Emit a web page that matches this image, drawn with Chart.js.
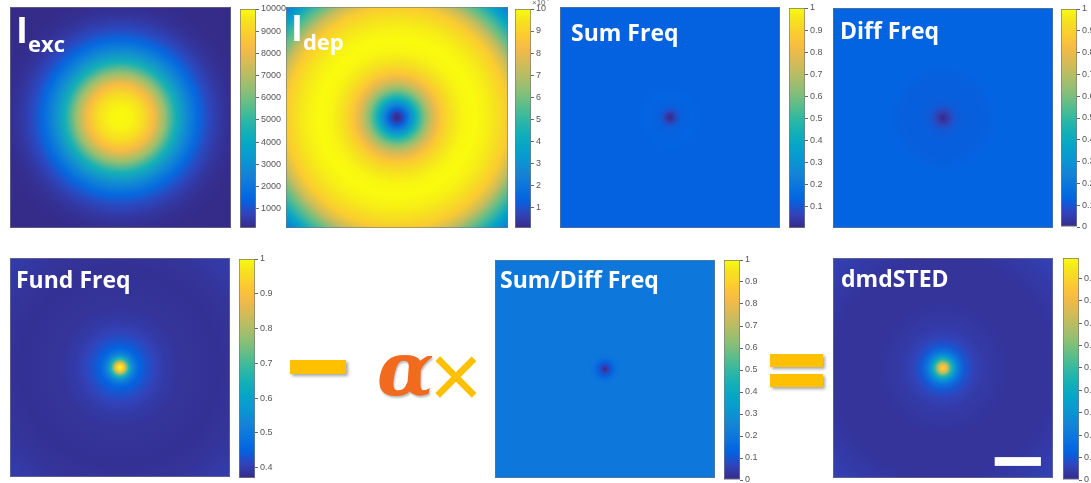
<!DOCTYPE html>
<html>
<head>
<meta charset="utf-8">
<script src="https://cdn.jsdelivr.net/npm/chart.js@4.4.0/dist/chart.umd.min.js"></script>
<style>
  body { margin: 0; background: #fff; width: 1091px; height: 483px; overflow: hidden; position: relative; font-family: "Open Sans", sans-serif; }
  canvas { position: absolute; }
  .ttl { position: absolute; color: #fff; font-weight: 700; font-size: 23px; line-height: 23px; white-space: nowrap; }
  .big { font-size: 36px; line-height: 36px; }
  .sub { font-size: 22px; position: relative; top: 9px; }
  .bar { position: absolute; background: #ffc000; box-shadow: 2px 2px 3px rgba(0,0,0,0.35); }
  .sym { position: absolute; white-space: nowrap; line-height: 1; }
  .exp { position: absolute; font: 8px "Liberation Sans", sans-serif; color: #666; }
</style>
</head>
<body>
<canvas id="p1" width="221" height="221" style="left:10px;top:7px"></canvas>
<canvas id="c1" width="46" height="235" style="left:240px;top:1px"></canvas>
<canvas id="p2" width="222" height="221" style="left:286px;top:7px"></canvas>
<canvas id="c2" width="46" height="235" style="left:515px;top:1px"></canvas>
<canvas id="p3" width="220" height="221" style="left:560px;top:7px"></canvas>
<canvas id="c3" width="46" height="236" style="left:789px;top:0px"></canvas>
<canvas id="p4" width="220" height="220" style="left:833px;top:8px"></canvas>
<canvas id="c4" width="46" height="234" style="left:1061px;top:1px"></canvas>

<canvas id="p5" width="220" height="219" style="left:10px;top:258px"></canvas>
<canvas id="c5" width="46" height="235" style="left:239px;top:251px"></canvas>
<canvas id="p6" width="220" height="218" style="left:495px;top:260px"></canvas>
<canvas id="c6" width="46" height="236" style="left:724px;top:252px"></canvas>
<canvas id="p7" width="220" height="220" style="left:833px;top:258px"></canvas>
<canvas id="c7" width="46" height="238" style="left:1063px;top:250px"></canvas>

<div class="ttl" style="left:16px;top:12px"><span class="big">I</span><span class="sub">exc</span></div>
<div class="ttl" style="left:291px;top:10px"><span class="big">I</span><span class="sub">dep</span></div>
<div class="ttl" style="left:571px;top:21px">Sum Freq</div>
<div class="ttl" style="left:840px;top:19px">Diff Freq</div>
<div class="ttl" style="left:16px;top:268px">Fund Freq</div>
<div class="ttl" style="left:500px;top:268px">Sum/Diff Freq</div>
<div class="ttl" style="left:841px;top:267px">dmdSTED</div>
<div class="exp" style="left:532px;top:-5px">×10<sup>4</sup></div>

<div class="bar" style="left:290px;top:360px;width:56px;height:14px"></div>
<div class="sym" style="left:377px;top:326px;font:italic 700 74px 'DejaVu Serif',serif;color:#f26a1d;text-shadow:1px 2px 2px rgba(0,0,0,0.25)">α</div>
<div class="sym" style="left:429px;top:324px;font:400 92px 'Liberation Sans',sans-serif;color:#ffc000">×</div>
<div class="bar" style="left:770px;top:354px;width:53px;height:13px"></div>
<div class="bar" style="left:770px;top:374px;width:53px;height:13px"></div>

<script>
// radial profiles (r = distance from centre in half-widths, v = value)
const excR = [0, 0.1, 0.2, 0.3, 0.4, 0.5, 0.6, 0.7, 0.8, 0.9, 1.0, 1.1, 1.25, 1.42];
const excV = [10000, 9850, 9350, 8300, 6500, 4500, 2800, 1600, 850, 450, 250, 170, 140, 130];

const depR = [0, 0.04, 0.08, 0.12, 0.16, 0.2, 0.25, 0.3, 0.35, 0.4, 0.5, 0.6, 0.7, 0.8, 0.9, 1.0, 1.1, 1.2, 1.3, 1.42];
const depV = [0.05, 0.5, 1.5, 2.7, 3.9, 5.0, 6.2, 7.2, 8.0, 8.7, 9.5, 9.9, 10, 9.8, 9.4, 8.8, 7.3, 5.6, 3.8, 1.9];

const sumR = [0, 0.03, 0.06, 0.1, 0.2, 0.3, 0.6, 1.42];
const sumV = [0.0, 0.04, 0.09, 0.125, 0.135, 0.13, 0.13, 0.13];

const diffR = [0, 0.04, 0.08, 0.12, 0.2, 0.35, 0.5, 1.0, 1.42];
const diffV = [0.0, 0.04, 0.08, 0.11, 0.12, 0.12, 0.13, 0.13, 0.13];

const fundR = [0, 0.03, 0.05, 0.08, 0.11, 0.14, 0.18, 0.24, 0.32, 0.42, 0.55, 0.9, 1.1, 1.3, 1.42];
const fundV = [1.0, 0.93, 0.82, 0.66, 0.55, 0.49, 0.45, 0.43, 0.41, 0.395, 0.385, 0.38, 0.385, 0.395, 0.40];

const sdR = [0, 0.03, 0.06, 0.1, 0.15, 0.3, 1.42];
const sdV = [0.0, 0.06, 0.12, 0.18, 0.2, 0.2, 0.2];

const stedR = [0, 0.03, 0.05, 0.08, 0.11, 0.15, 0.2, 0.28, 0.38, 0.6, 1.0, 1.2, 1.42];
const stedV = [0.9, 0.8, 0.65, 0.45, 0.3, 0.18, 0.1, 0.06, 0.04, 0.025, 0.025, 0.04, 0.06];

// colorbar ranges and tick labels
const excRange = [130, 10000];
const excTicks = [1000, 2000, 3000, 4000, 5000, 6000, 7000, 8000, 9000, 10000];
const depRange = [0.05, 10];
const depTicks = [1, 2, 3, 4, 5, 6, 7, 8, 9, 10];
const sumRange = [0.005, 1];
const sumTicks = [0.1, 0.2, 0.3, 0.4, 0.5, 0.6, 0.7, 0.8, 0.9, 1];
const diffRange = [0, 1];
const diffTicks = [0, 0.1, 0.2, 0.3, 0.4, 0.5, 0.6, 0.7, 0.8, 0.9, 1];
const fundRange = [0.37, 1];
const fundTicks = [0.4, 0.5, 0.6, 0.7, 0.8, 0.9, 1];
const sdRange = [0, 1];
const sdTicks = [0, 0.1, 0.2, 0.3, 0.4, 0.5, 0.6, 0.7, 0.8, 0.9, 1];
const stedRange = [0, 0.99];
const stedTicks = [0, 0.1, 0.2, 0.3, 0.4, 0.5, 0.6, 0.7, 0.8, 0.9];

// parula colormap stops [position, r, g, b]
const parula = [
  [0/63, 0.2081, 0.1663, 0.5292], [4/63, 0.1959, 0.2645, 0.7279], [8/63, 0.0117, 0.3875, 0.8820],
  [12/63, 0.0498, 0.4586, 0.8641], [16/63, 0.0793, 0.5200, 0.8312], [20/63, 0.0343, 0.5966, 0.8199],
  [24/63, 0.0228, 0.6535, 0.7768], [28/63, 0.0843, 0.6928, 0.7062], [32/63, 0.2178, 0.7250, 0.6193],
  [36/63, 0.3953, 0.7459, 0.5244], [40/63, 0.5709, 0.7485, 0.4494], [44/63, 0.7184, 0.7411, 0.3905],
  [48/63, 0.8507, 0.7299, 0.3360], [52/63, 0.9739, 0.7314, 0.2666], [56/63, 0.9880, 0.8066, 0.1794],
  [60/63, 0.9589, 0.8949, 0.1132], [63/63, 0.9763, 0.9831, 0.0538]
];

function cmap(t) {
  t = Math.max(0, Math.min(1, t));
  let i = 0;
  while (i < parula.length - 2 && t > parula[i + 1][0]) i++;
  const a = parula[i], b = parula[i + 1];
  const f = (t - a[0]) / (b[0] - a[0]);
  const c = [1, 2, 3].map(k => Math.round(255 * (a[k] + (b[k] - a[k]) * f)));
  return 'rgb(' + c.join(',') + ')';
}

// paints the radial field through the x/y scales
const radialPlugin = {
  id: 'radial',
  beforeDatasetsDraw(chart, args, o) {
    const { ctx, chartArea: a, scales: { x, y } } = chart;
    const cx = x.getPixelForValue(0), cy = y.getPixelForValue(0);
    const rmax = o.r[o.r.length - 1];
    const R = x.getPixelForValue(rmax) - cx;
    const g = ctx.createRadialGradient(cx, cy, 0, cx, cy, R);
    o.r.forEach((r, i) => g.addColorStop(r / rmax, cmap((o.v[i] - o.lo) / (o.hi - o.lo))));
    ctx.save();
    ctx.fillStyle = g;
    ctx.fillRect(a.left, a.top, a.width, a.height);
    if (o.scaleBar) {
      const [x0, x1, y0, y1] = o.scaleBar;
      ctx.fillStyle = '#fff';
      const px0 = x.getPixelForValue(x0), px1 = x.getPixelForValue(x1);
      const py0 = y.getPixelForValue(y0), py1 = y.getPixelForValue(y1);
      ctx.fillRect(px0, py0, px1 - px0, py1 - py0);
    }
    ctx.strokeStyle = 'rgba(120,120,120,0.6)';
    ctx.lineWidth = 1;
    ctx.strokeRect(a.left + 0.5, a.top + 0.5, a.width - 1, a.height - 1);
    ctx.restore();
  }
};

function heatmap(id, r, v, range, scaleBar) {
  new Chart(document.getElementById(id), {
    type: 'scatter',
    data: { datasets: [{ data: r.map((rr, i) => ({ x: rr, y: 0 })), pointRadius: 0 }] },
    options: {
      responsive: false, animation: false, events: [],
      layout: { padding: 0 },
      plugins: {
        legend: { display: false }, tooltip: { enabled: false },
        radial: { r: r, v: v, lo: range[0], hi: range[1], scaleBar: scaleBar }
      },
      scales: {
        x: { display: false, min: -1, max: 1 },
        y: { display: false, min: -1, max: 1 }
      }
    },
    plugins: [radialPlugin]
  });
}

function colorbar(id, range, ticks) {
  new Chart(document.getElementById(id), {
    type: 'bar',
    data: {
      labels: ['c'],
      datasets: [{
        data: [[range[0], range[1]]],
        backgroundColor: (c) => {
          const ch = c.chart;
          if (!ch.chartArea) return null;
          const ys = ch.scales.y;
          const g = ch.ctx.createLinearGradient(0, ys.getPixelForValue(range[0]), 0, ys.getPixelForValue(range[1]));
          for (let i = 0; i <= 32; i++) g.addColorStop(i / 32, cmap(i / 32));
          return g;
        },
        borderColor: '#7a7a7a', borderWidth: 1, borderSkipped: false,
        barPercentage: 1, categoryPercentage: 1
      }]
    },
    options: {
      responsive: false, animation: false, events: [],
      layout: { padding: { top: 8, bottom: 8, left: 0, right: 0 } },
      plugins: { legend: { display: false }, tooltip: { enabled: false } },
      scales: {
        x: { display: false },
        y: {
          position: 'right', min: range[0], max: range[1],
          afterBuildTicks: s => { s.ticks = ticks.map(t => ({ value: t })); },
          afterFit: s => { s.width = 30; },
          border: { display: false },
          grid: { drawOnChartArea: false, tickLength: 3, color: '#666' },
          ticks: { font: { size: 9, family: 'Liberation Sans' }, color: '#555', padding: 2, callback: v => String(v) }
        }
      }
    }
  });
}

heatmap('p1', excR, excV, excRange);
colorbar('c1', excRange, excTicks);
heatmap('p2', depR, depV, depRange);
colorbar('c2', depRange, depTicks);
heatmap('p3', sumR, sumV, sumRange);
colorbar('c3', sumRange, sumTicks);
heatmap('p4', diffR, diffV, diffRange);
colorbar('c4', diffRange, diffTicks);
heatmap('p5', fundR, fundV, fundRange);
colorbar('c5', fundRange, fundTicks);
heatmap('p6', sdR, sdV, sdRange);
colorbar('c6', sdRange, sdTicks);
heatmap('p7', stedR, stedV, stedRange, [0.47, 0.89, -0.81, -0.89]);
colorbar('c7', stedRange, stedTicks);
</script>
</body>
</html>
